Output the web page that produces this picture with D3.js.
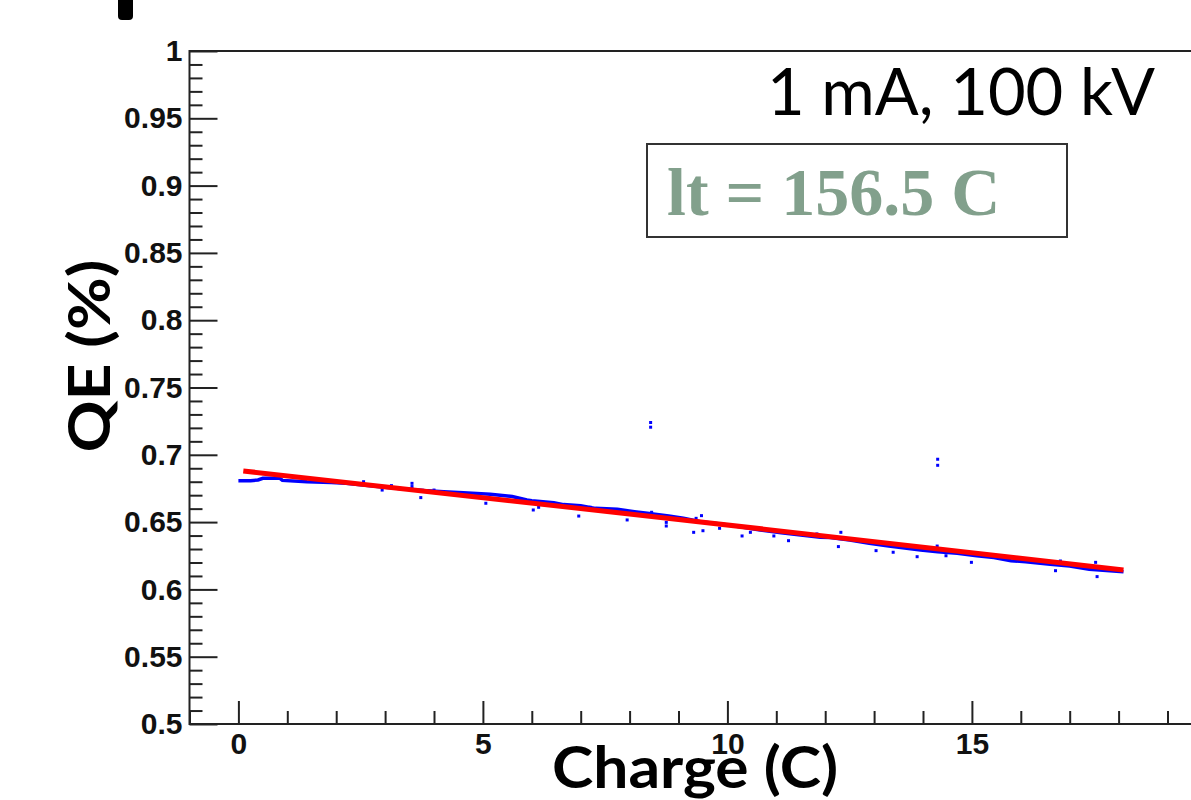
<!DOCTYPE html>
<html>
<head>
<meta charset="utf-8">
<script src="https://cdn.jsdelivr.net/npm/d3@7/dist/d3.min.js"></script>
<style>
  body { margin: 0; background: #fff; }
  svg { display: block; }
  .ticklab text { font-family: "Liberation Sans", Arial, sans-serif; font-weight: bold; font-size: 30px; fill: #111; }
  .ticklab line { stroke: #222; stroke-width: 2; }
  .title { font-family: Lato, "Open Sans", sans-serif; font-weight: bold; font-size: 58px; fill: #000; }
</style>
</head>
<body>
<div id="chart"></div>
<script>
// Set the dimensions of the page
var width = 1191,
    height = 800;

var traceCharge = [0.0, 0.25, 0.4, 0.5, 0.85, 0.9, 1.4, 1.9, 2.2, 2.55, 3.0, 3.4, 3.8, 4.2, 4.6, 5.15, 5.6, 5.9,
    6.0, 6.45, 6.65, 7.0, 7.3, 7.75, 8.1, 8.36, 8.8, 9.1, 9.45, 9.86, 10.26, 10.67, 11.1, 11.5, 11.9,
    12.1, 12.5, 12.9, 13.3, 13.95, 14.3, 14.7, 15.1, 15.45, 15.8, 16.1, 16.6, 17.0, 17.4, 18.1];
var traceQE = [0.6808, 0.6808, 0.6813, 0.6825, 0.6825, 0.681, 0.6800, 0.6795, 0.6788, 0.6776, 0.6759, 0.6746, 0.6734, 0.6726, 0.6719, 0.6707, 0.669, 0.6664,
    0.6659, 0.6644, 0.663, 0.6622, 0.6602, 0.6595, 0.6577, 0.6565, 0.6545, 0.6528, 0.6503, 0.6486, 0.6466, 0.6441, 0.6421, 0.6404, 0.6387,
    0.6385, 0.6367, 0.6342, 0.6322, 0.6293, 0.628, 0.6268, 0.625, 0.6236, 0.6213, 0.6206, 0.6186, 0.6174, 0.6149, 0.6132];

// Stray measurement points
var strayCharge = [2.56, 2.94, 3.13, 3.55, 3.55, 3.73, 4.0, 5.06, 6.03, 6.14, 6.96, 7.2, 7.95, 8.43, 8.43, 8.45, 8.75, 8.75,
    9.31, 9.36, 9.47, 9.5, 9.84, 10.3, 10.47, 10.95, 11.25, 11.83, 12.27, 12.32, 12.92, 13.04, 13.39, 13.88,
    14.29, 14.3, 14.3, 14.47, 14.99, 16.71, 16.81, 17.53, 17.56];
var strayQE = [0.680, 0.6738, 0.6771, 0.6788, 0.6764, 0.6682, 0.6738, 0.6640, 0.659, 0.661, 0.6545, 0.661, 0.6516, 0.7240, 0.7205, 0.6573, 0.6471, 0.6498,
    0.6424, 0.6528, 0.6548, 0.6436, 0.6454, 0.6397, 0.6424, 0.6397, 0.6362, 0.6412, 0.6318, 0.6424, 0.6362, 0.6288, 0.6276, 0.6243,
    0.6322, 0.6967, 0.6922, 0.625, 0.6201, 0.6139, 0.6211, 0.6201, 0.6095];

// Exponential fit (red)
var fitCharge = [0.1, 9.0, 18.1];
var fitQE = [0.688, 0.652, 0.6144];

// Axis ticks
var xMajor = [0, 5, 10, 15];
var xMajorLabels = ["0", "5", "10", "15"];
var xMinor = [-1, 1, 2, 3, 4, 6, 7, 8, 9, 11, 12, 13, 14, 16, 17, 18, 19];
var yMajor = [0.5, 0.55, 0.6, 0.65, 0.7, 0.75, 0.8, 0.85, 0.9, 0.95, 1];
var yMajorLabels = ["0.5", "0.55", "0.6", "0.65", "0.7", "0.75", "0.8", "0.85", "0.9", "0.95", "1"];
var yMinor = d3.range(51, 100).filter(function (k) { return k % 5 !== 0; }).map(function (k) { return k / 100; });

// Set the ranges
var x = d3.scaleLinear().domain([-1, 20]).range([189.5, 189.5 + 21 * 48.9]);
var y = d3.scaleLinear().domain([0.5, 1]).range([724, 51]);

var svg = d3.select("#chart")
    .append("svg")
    .attr("width", width)
    .attr("height", height);

svg.append("rect")
    .attr("width", width)
    .attr("height", height)
    .style("fill", "#fff");

// stray black mark cut off at the top of the picture
svg.append("rect")
    .attr("x", 118).attr("y", -8)
    .attr("width", 15).attr("height", 28)
    .attr("rx", 4)
    .style("fill", "#000");

// Y axis minor / major ticks (pointing inwards)
svg.append("g")
    .attr("class", "ticklab")
    .attr("transform", "translate(" + x(-1) + ",0)")
    .call(d3.axisLeft(y).tickValues(yMinor).tickSize(-13).tickFormat(""))
    .call(function (g) { g.select(".domain").remove(); });

svg.append("g")
    .attr("class", "ticklab")
    .attr("transform", "translate(" + x(-1) + ",0)")
    .call(d3.axisLeft(y).tickValues(yMajor).tickSize(-28).tickPadding(7)
        .tickFormat(function (d, i) { return yMajorLabels[i]; }))
    .call(function (g) { g.select(".domain").remove(); });

// X axis minor / major ticks
svg.append("g")
    .attr("class", "ticklab")
    .attr("transform", "translate(0," + y(0.5) + ")")
    .call(d3.axisBottom(x).tickValues(xMinor).tickSize(-13).tickFormat(""))
    .call(function (g) { g.select(".domain").remove(); });

svg.append("g")
    .attr("class", "ticklab")
    .attr("transform", "translate(0," + y(0.5) + ")")
    .call(d3.axisBottom(x).tickValues(xMajor).tickSize(-23).tickPadding(9)
        .tickFormat(function (d, i) { return xMajorLabels[i]; }))
    .call(function (g) { g.select(".domain").remove(); });

// Frame
svg.append("rect")
    .attr("x", x(-1))
    .attr("y", y(1))
    .attr("width", x(20) - x(-1))
    .attr("height", y(0.5) - y(1))
    .style("fill", "none")
    .style("stroke", "#222")
    .style("stroke-width", 2);

// Blue measured trace
var trace = traceCharge.map(function (c, i) { return [c, traceQE[i]]; });
var line = d3.line()
    .x(function (d) { return x(d[0]); })
    .y(function (d) { return y(d[1]); });

svg.append("path")
    .attr("d", line(trace))
    .style("fill", "none")
    .style("stroke", "#0000ff")
    .style("stroke-width", 3.5);

svg.selectAll(".stray")
    .data(strayCharge)
    .enter()
    .append("rect")
    .attr("class", "stray")
    .attr("x", function (d) { return x(d) - 1.5; })
    .attr("y", function (d, i) { return y(strayQE[i]) - 1.5; })
    .attr("width", 3)
    .attr("height", 3)
    .style("fill", "#0000ff");

// Red fit line
var fit = fitCharge.map(function (c, i) { return [c, fitQE[i]]; });
svg.append("path")
    .attr("d", line(fit))
    .style("fill", "none")
    .style("stroke", "#ff0000")
    .style("stroke-width", 5);

// Axis titles
svg.append("text")
    .attr("class", "title")
    .attr("transform", "translate(110,356) rotate(-90)")
    .style("text-anchor", "middle")
    .attr("textLength", 193)
    .attr("lengthAdjust", "spacingAndGlyphs")
    .text("QE (%)");

svg.append("text")
    .attr("class", "title")
    .attr("x", 695)
    .attr("y", 788)
    .style("text-anchor", "middle")
    .attr("textLength", 286)
    .attr("lengthAdjust", "spacingAndGlyphs")
    .text("Charge (C)");

// Condition label
svg.append("text")
    .attr("x", 767)
    .attr("y", 115)
    .style("font-family", "Lato, 'Open Sans', sans-serif")
    .style("font-size", "65px")
    .style("fill", "#000")
    .text("1 mA, 100 kV");

// Lifetime box
svg.append("rect")
    .attr("x", 647)
    .attr("y", 144)
    .attr("width", 420)
    .attr("height", 93)
    .style("fill", "#fff")
    .style("stroke", "#333")
    .style("stroke-width", 2);

svg.append("text")
    .attr("x", 667)
    .attr("y", 215)
    .style("font-family", "'Liberation Serif', 'Times New Roman', serif")
    .style("font-weight", "bold")
    .style("font-size", "68px")
    .style("fill", "#82a08c")
    .text("lt = 156.5 C");
</script>
</body>
</html>
